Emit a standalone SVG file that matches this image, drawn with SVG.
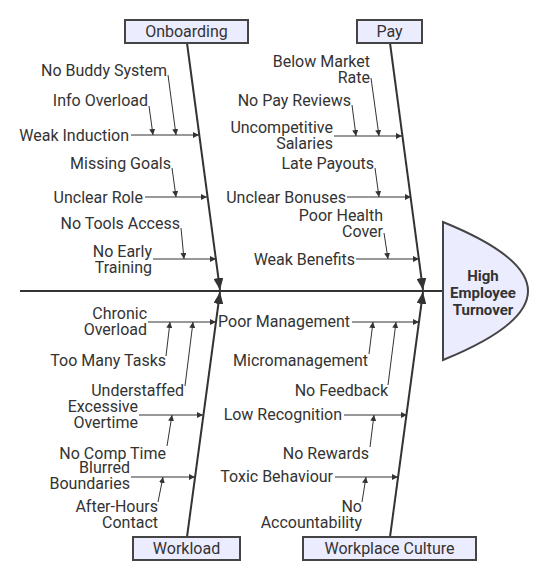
<svg xmlns="http://www.w3.org/2000/svg" width="548" height="580" viewBox="0 0 548 580">
<style>
  .t { font-family: Roboto, "Liberation Sans", sans-serif; font-size: 16px; fill: #333; text-anchor: end; }
  .bt { font-family: Roboto, "Liberation Sans", sans-serif; font-size: 16px; fill: #333; text-anchor: middle; }
  .ht { font-family: Roboto, "Liberation Sans", sans-serif; font-size: 15px; font-weight: bold; fill: #333; text-anchor: middle; }
  .box { fill: #ECECFF; stroke: #444; stroke-width: 2; }
  .spine { stroke: #333; stroke-width: 2; fill: none; }
  .bone { stroke: #333; stroke-width: 2; fill: none; marker-end: url(#big); }
  .br { stroke: #333; stroke-width: 1; fill: none; marker-end: url(#small); }
</style>
<defs>
  <marker id="big" viewBox="0 0 12 10" refX="12" refY="5" markerWidth="12" markerHeight="10" markerUnits="userSpaceOnUse" orient="auto">
    <path d="M0,0 L12,5 L0,10 z" fill="#333"/>
  </marker>
  <marker id="small" viewBox="0 0 6 6" refX="6" refY="3" markerWidth="6" markerHeight="6" markerUnits="userSpaceOnUse" orient="auto">
    <path d="M0,0 L6,3 L0,6 z" fill="#333"/>
  </marker>
</defs>
<rect width="548" height="580" fill="#ffffff"/>

<g id="connectors">
  <line class="spine" x1="20" y1="291" x2="443" y2="291"/>
  <line class="bone" x1="187" y1="43" x2="220" y2="290"/>
  <line class="bone" x1="390" y1="43" x2="423" y2="290"/>
  <line class="bone" x1="187" y1="537" x2="220" y2="292"/>
  <line class="bone" x1="390" y1="537" x2="423" y2="292"/>

  <!-- Onboarding -->
  <line class="br" x1="131" y1="135" x2="199" y2="135"/>
  <line class="br" x1="168" y1="75" x2="176" y2="135"/>
  <line class="br" x1="149" y1="106" x2="153" y2="135"/>
  <line class="br" x1="145" y1="197" x2="207" y2="197"/>
  <line class="br" x1="172" y1="168" x2="176" y2="197"/>
  <line class="br" x1="153" y1="259" x2="216" y2="259"/>
  <line class="br" x1="181" y1="228" x2="184" y2="259"/>

  <!-- Pay -->
  <line class="br" x1="334" y1="136" x2="402" y2="136"/>
  <line class="br" x1="371" y1="78" x2="379" y2="136"/>
  <line class="br" x1="352" y1="105" x2="356" y2="136"/>
  <line class="br" x1="347" y1="197" x2="411" y2="197"/>
  <line class="br" x1="375" y1="168" x2="379" y2="197"/>
  <line class="br" x1="356" y1="259" x2="419" y2="259"/>
  <line class="br" x1="384" y1="233" x2="388" y2="259"/>

  <!-- Workload -->
  <line class="br" x1="148" y1="322" x2="216" y2="322"/>
  <line class="br" x1="166" y1="356" x2="170" y2="322"/>
  <line class="br" x1="185" y1="386" x2="193" y2="322"/>
  <line class="br" x1="139" y1="415" x2="203" y2="415"/>
  <line class="br" x1="167" y1="446" x2="172" y2="415"/>
  <line class="br" x1="131" y1="477" x2="195" y2="477"/>
  <line class="br" x1="158" y1="502" x2="163" y2="477"/>

  <!-- Workplace Culture -->
  <line class="br" x1="352" y1="322" x2="419" y2="322"/>
  <line class="br" x1="369" y1="354" x2="373" y2="322"/>
  <line class="br" x1="388" y1="385" x2="396" y2="322"/>
  <line class="br" x1="344" y1="415" x2="407" y2="415"/>
  <line class="br" x1="370" y1="447" x2="374" y2="415"/>
  <line class="br" x1="335" y1="477" x2="398" y2="477"/>
  <line class="br" x1="362" y1="502" x2="366" y2="477"/>
</g>

<g id="head">
  <path class="box" d="M443,222 L443,360 Q613,291 443,222 Z"/>
  <text class="ht" x="483" y="281">High</text>
  <text class="ht" x="483" y="298">Employee</text>
  <text class="ht" x="483" y="315">Turnover</text>
</g>

<g id="onboarding">
  <rect class="box" x="125" y="20" width="123" height="23"/>
  <text class="bt" x="186.5" y="37">Onboarding</text>
  <text class="t" x="167" y="75.5">No Buddy System</text>
  <text class="t" x="148" y="105.5">Info Overload</text>
  <text class="t" x="129" y="140.5">Weak Induction</text>
  <text class="t" x="171" y="168.5">Missing Goals</text>
  <text class="t" x="143" y="202.5">Unclear Role</text>
  <text class="t" x="180" y="228.5">No Tools Access</text>
  <text class="t" x="152" y="256.5">No Early<tspan x="152" dy="16.5">Training</tspan></text>
</g>

<g id="pay">
  <rect class="box" x="357" y="20" width="65" height="23"/>
  <text class="bt" x="389.5" y="37">Pay</text>
  <text class="t" x="370" y="66.5">Below Market<tspan x="370" dy="16.5">Rate</tspan></text>
  <text class="t" x="351" y="105.5">No Pay Reviews</text>
  <text class="t" x="333" y="132.5">Uncompetitive<tspan x="333" dy="16.5">Salaries</tspan></text>
  <text class="t" x="374" y="168.5">Late Payouts</text>
  <text class="t" x="346" y="202.5">Unclear Bonuses</text>
  <text class="t" x="383" y="220.5">Poor Health<tspan x="383" dy="16.5">Cover</tspan></text>
  <text class="t" x="355" y="264.5">Weak Benefits</text>
</g>

<g id="workload">
  <rect class="box" x="133" y="537" width="107" height="23"/>
  <text class="bt" x="186.5" y="554">Workload</text>
  <text class="t" x="147" y="318.5">Chronic<tspan x="147" dy="16.5">Overload</tspan></text>
  <text class="t" x="166" y="365.5">Too Many Tasks</text>
  <text class="t" x="184" y="395.5">Understaffed</text>
  <text class="t" x="138" y="411.5">Excessive<tspan x="138" dy="16.5">Overtime</tspan></text>
  <text class="t" x="166" y="458.5">No Comp Time</text>
  <text class="t" x="130" y="472.5">Blurred<tspan x="130" dy="16.5">Boundaries</tspan></text>
  <text class="t" x="158" y="511.5">After-Hours<tspan x="158" dy="16.5">Contact</tspan></text>
</g>

<g id="workplace-culture">
  <rect class="box" x="303" y="537" width="173" height="23"/>
  <text class="bt" x="389.5" y="554">Workplace Culture</text>
  <text class="t" x="350" y="326.5">Poor Management</text>
  <text class="t" x="368" y="365.5">Micromanagement</text>
  <text class="t" x="388" y="395.5">No Feedback</text>
  <text class="t" x="342" y="419.5">Low Recognition</text>
  <text class="t" x="369" y="458.5">No Rewards</text>
  <text class="t" x="333" y="481.5">Toxic Behaviour</text>
  <text class="t" x="362" y="511.5">No<tspan x="362" dy="16.5">Accountability</tspan></text>
</g>
</svg>
